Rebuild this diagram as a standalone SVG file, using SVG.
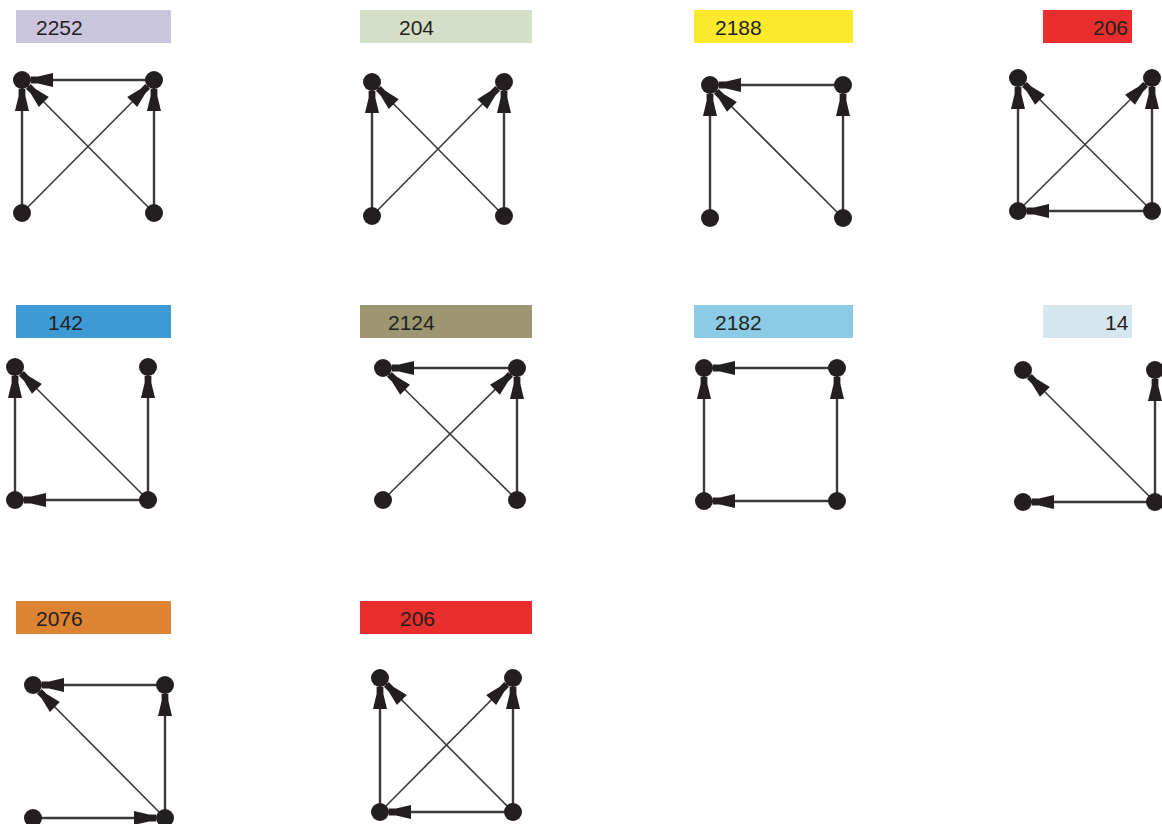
<svg xmlns="http://www.w3.org/2000/svg" width="1162" height="824" viewBox="0 0 1162 824">
<style>
.lbl{font-family:"Liberation Sans",Arial,sans-serif;font-size:21px;fill:#231f20}
.n{fill:#231f20}
.e{stroke:#3a3a3a;stroke-width:2.4;fill:none;marker-end:url(#ah)}
.d{stroke:#3a3a3a;stroke-width:1.6;fill:none;marker-end:url(#ah)}
</style>
<defs>
<marker id="ah" markerUnits="userSpaceOnUse" viewBox="-40 -10 50 20" refX="0" refY="0" markerWidth="50" markerHeight="20" orient="auto" overflow="visible">
<path d="M-9,-3.4 L-16,-3.4 L-31,-7 L-31,7 L-16,3.4 L-9,3.4 Z" fill="#231f20"/>
</marker>
</defs>
<rect width="1162" height="824" fill="#ffffff"/>

<!-- Panel 1 -->
<g id="p1">
<g id="p1-label"><rect x="16" y="10" width="155" height="33" fill="#c8c5dc"/><text class="lbl" x="36" y="35">2252</text></g>
<g id="p1-edges">
<line class="e" x1="154" y1="80" x2="22" y2="80"/>
<line class="e" x1="22" y1="213" x2="22" y2="80"/>
<line class="d" x1="154" y1="213" x2="22" y2="80"/>
<line class="d" x1="22" y1="213" x2="154" y2="80"/>
<line class="e" x1="154" y1="213" x2="154" y2="80"/>
</g>
<g id="p1-tl"><circle class="n" cx="22" cy="80" r="9"/></g>
<g id="p1-tr"><circle class="n" cx="154" cy="80" r="9"/></g>
<g id="p1-bl"><circle class="n" cx="22" cy="213" r="9"/></g>
<g id="p1-br"><circle class="n" cx="154" cy="213" r="9"/></g>
</g>

<!-- Panel 2 -->
<g id="p2">
<g id="p2-label"><rect x="360" y="10" width="172" height="33" fill="#d5dfc8"/><text class="lbl" x="399" y="35">204</text></g>
<g id="p2-edges">
<line class="e" x1="372" y1="216" x2="372" y2="82"/>
<line class="d" x1="504" y1="216" x2="372" y2="82"/>
<line class="d" x1="372" y1="216" x2="504" y2="82"/>
<line class="e" x1="504" y1="216" x2="504" y2="82"/>
</g>
<g id="p2-tl"><circle class="n" cx="372" cy="82" r="9"/></g>
<g id="p2-tr"><circle class="n" cx="504" cy="82" r="9"/></g>
<g id="p2-bl"><circle class="n" cx="372" cy="216" r="9"/></g>
<g id="p2-br"><circle class="n" cx="504" cy="216" r="9"/></g>
</g>

<!-- Panel 3 -->
<g id="p3">
<g id="p3-label"><rect x="694" y="10" width="159" height="33" fill="#fbe92c"/><text class="lbl" x="715" y="35">2188</text></g>
<g id="p3-edges">
<line class="e" x1="843" y1="85" x2="710" y2="85"/>
<line class="e" x1="710" y1="218" x2="710" y2="85"/>
<line class="d" x1="843" y1="218" x2="710" y2="85"/>
<line class="e" x1="843" y1="218" x2="843" y2="85"/>
</g>
<g id="p3-tl"><circle class="n" cx="710" cy="85" r="9"/></g>
<g id="p3-tr"><circle class="n" cx="843" cy="85" r="9"/></g>
<g id="p3-bl"><circle class="n" cx="710" cy="218" r="9"/></g>
<g id="p3-br"><circle class="n" cx="843" cy="218" r="9"/></g>
</g>

<!-- Panel 4 -->
<g id="p4">
<g id="p4-label"><rect x="1043" y="10" width="89" height="33" fill="#e92e2e"/><text class="lbl" x="1093" y="35">206</text></g>
<g id="p4-edges">
<line class="e" x1="1018" y1="211" x2="1018" y2="78"/>
<line class="d" x1="1152" y1="211" x2="1018" y2="78"/>
<line class="d" x1="1018" y1="211" x2="1152" y2="78"/>
<line class="e" x1="1152" y1="211" x2="1152" y2="78"/>
<line class="e" x1="1152" y1="211" x2="1018" y2="211"/>
</g>
<g id="p4-tl"><circle class="n" cx="1018" cy="78" r="9"/></g>
<g id="p4-tr"><circle class="n" cx="1152" cy="78" r="9"/></g>
<g id="p4-bl"><circle class="n" cx="1018" cy="211" r="9"/></g>
<g id="p4-br"><circle class="n" cx="1152" cy="211" r="9"/></g>
</g>

<!-- Panel 5 -->
<g id="p5">
<g id="p5-label"><rect x="16" y="305" width="155" height="33" fill="#3e9ad5"/><text class="lbl" x="48" y="330">142</text></g>
<g id="p5-edges">
<line class="e" x1="15" y1="500" x2="15" y2="367"/>
<line class="d" x1="148" y1="500" x2="15" y2="367"/>
<line class="e" x1="148" y1="500" x2="148" y2="367"/>
<line class="e" x1="148" y1="500" x2="15" y2="500"/>
</g>
<g id="p5-tl"><circle class="n" cx="15" cy="367" r="9"/></g>
<g id="p5-tr"><circle class="n" cx="148" cy="367" r="9"/></g>
<g id="p5-bl"><circle class="n" cx="15" cy="500" r="9"/></g>
<g id="p5-br"><circle class="n" cx="148" cy="500" r="9"/></g>
</g>

<!-- Panel 6 -->
<g id="p6">
<g id="p6-label"><rect x="360" y="305" width="172" height="33" fill="#9e9673"/><text class="lbl" x="388" y="330">2124</text></g>
<g id="p6-edges">
<line class="e" x1="517" y1="368" x2="383" y2="368"/>
<line class="d" x1="517" y1="500" x2="383" y2="368"/>
<line class="d" x1="383" y1="500" x2="517" y2="368"/>
<line class="e" x1="517" y1="500" x2="517" y2="368"/>
</g>
<g id="p6-tl"><circle class="n" cx="383" cy="368" r="9"/></g>
<g id="p6-tr"><circle class="n" cx="517" cy="368" r="9"/></g>
<g id="p6-bl"><circle class="n" cx="383" cy="500" r="9"/></g>
<g id="p6-br"><circle class="n" cx="517" cy="500" r="9"/></g>
</g>

<!-- Panel 7 -->
<g id="p7">
<g id="p7-label"><rect x="694" y="305" width="159" height="33" fill="#8ccbe6"/><text class="lbl" x="715" y="330">2182</text></g>
<g id="p7-edges">
<line class="e" x1="837" y1="368" x2="704" y2="368"/>
<line class="e" x1="704" y1="501" x2="704" y2="368"/>
<line class="e" x1="837" y1="501" x2="837" y2="368"/>
<line class="e" x1="837" y1="501" x2="704" y2="501"/>
</g>
<g id="p7-tl"><circle class="n" cx="704" cy="368" r="9"/></g>
<g id="p7-tr"><circle class="n" cx="837" cy="368" r="9"/></g>
<g id="p7-bl"><circle class="n" cx="704" cy="501" r="9"/></g>
<g id="p7-br"><circle class="n" cx="837" cy="501" r="9"/></g>
</g>

<!-- Panel 8 -->
<g id="p8">
<g id="p8-label"><rect x="1043" y="305" width="89" height="33" fill="#d6e6ee"/><text class="lbl" x="1105" y="330">14</text></g>
<g id="p8-edges">
<line class="d" x1="1155" y1="502" x2="1023" y2="370"/>
<line class="e" x1="1155" y1="502" x2="1155" y2="370"/>
<line class="e" x1="1155" y1="502" x2="1023" y2="502"/>
</g>
<g id="p8-tl"><circle class="n" cx="1023" cy="370" r="9"/></g>
<g id="p8-tr"><circle class="n" cx="1155" cy="370" r="9"/></g>
<g id="p8-bl"><circle class="n" cx="1023" cy="502" r="9"/></g>
<g id="p8-br"><circle class="n" cx="1155" cy="502" r="9"/></g>
</g>

<!-- Panel 9 -->
<g id="p9">
<g id="p9-label"><rect x="16" y="601" width="155" height="33" fill="#dc8431"/><text class="lbl" x="36" y="626">2076</text></g>
<g id="p9-edges">
<line class="e" x1="165" y1="685" x2="33" y2="685"/>
<line class="d" x1="165" y1="818" x2="33" y2="685"/>
<line class="e" x1="165" y1="818" x2="165" y2="685"/>
<line class="e" x1="33" y1="818" x2="165" y2="818"/>
</g>
<g id="p9-tl"><circle class="n" cx="33" cy="685" r="9"/></g>
<g id="p9-tr"><circle class="n" cx="165" cy="685" r="9"/></g>
<g id="p9-bl"><circle class="n" cx="33" cy="818" r="9"/></g>
<g id="p9-br"><circle class="n" cx="165" cy="818" r="9"/></g>
</g>

<!-- Panel 10 -->
<g id="p10">
<g id="p10-label"><rect x="360" y="601" width="172" height="33" fill="#e92e2e"/><text class="lbl" x="400" y="626">206</text></g>
<g id="p10-edges">
<line class="e" x1="380" y1="812" x2="380" y2="678"/>
<line class="d" x1="513" y1="812" x2="380" y2="678"/>
<line class="d" x1="380" y1="812" x2="513" y2="678"/>
<line class="e" x1="513" y1="812" x2="513" y2="678"/>
<line class="e" x1="513" y1="812" x2="380" y2="812"/>
</g>
<g id="p10-tl"><circle class="n" cx="380" cy="678" r="9"/></g>
<g id="p10-tr"><circle class="n" cx="513" cy="678" r="9"/></g>
<g id="p10-bl"><circle class="n" cx="380" cy="812" r="9"/></g>
<g id="p10-br"><circle class="n" cx="513" cy="812" r="9"/></g>
</g>
</svg>
